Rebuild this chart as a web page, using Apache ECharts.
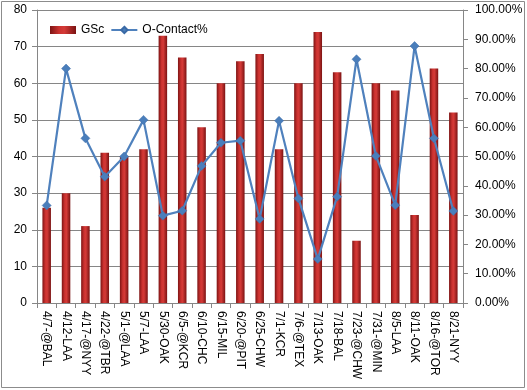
<!DOCTYPE html>
<html><head><meta charset="utf-8">
<script src="https://cdn.jsdelivr.net/npm/echarts@6/dist/echarts.min.js"></script>
<style>html,body{margin:0;padding:0;background:#fff}#c{width:527px;height:390px}</style>
</head><body><div id="c"></div>
<script>
const categories = ["4/7-@BAL","4/12-LAA","4/17-@NYY","4/22-@TBR","5/1-@LAA","5/7-LAA","5/30-OAK","6/5-@KCR","6/10-CHC","6/15-MIL","6/20-@PIT","6/25-CHW","7/1-KCR","7/6-@TEX","7/13-OAK","7/18-BAL","7/23-@CHW","7/31-@MIN","8/5-LAA","8/11-OAK","8/16-@TOR","8/21-NYY"];
const gsc = [26,30,21,41,40,42,73,67,48,60,66,68,42,60,74,63,17,60,58,24,64,52];
const oContact = [0.333,0.80,0.562,0.431,0.50,0.625,0.298,0.315,0.468,0.547,0.554,0.287,0.622,0.357,0.150,0.363,0.832,0.502,0.334,0.877,0.562,0.314];
const font = "Liberation Sans";
const chart = echarts.init(document.getElementById('c'));
chart.setOption({
  animation:false,
  textStyle:{fontFamily:font},
  graphic:[{type:'rect',shape:{x:1.5,y:1.5,width:523,height:386},style:{fill:'none',stroke:'#8c8c8c',lineWidth:1}}],
  grid:{left:37,right:64,top:10,bottom:87},
  legend:{left:45,top:19,itemGap:6,itemWidth:26,itemHeight:8,
    textStyle:{fontFamily:font,fontSize:12,color:'#000'},
    data:[{name:'GSc',icon:'rect'},{name:'O-Contact%'}]},
  xAxis:{type:'category',data:categories,
    axisLine:{lineStyle:{color:'#868686'}},
    axisTick:{show:true,length:5,lineStyle:{color:'#868686'}},
    axisLabel:{rotate:-90,margin:8,fontSize:12,color:'#000',fontFamily:font,interval:0}},
  yAxis:[{type:'value',min:0,max:80,interval:10,
    axisLine:{show:true,lineStyle:{color:'#868686'}},
    axisTick:{show:true,length:5,lineStyle:{color:'#868686'}},
    splitLine:{lineStyle:{color:'#868686'}},
    axisLabel:{fontSize:12,color:'#000',fontFamily:font,margin:10}},
   {type:'value',min:0,max:1,interval:0.1,position:'right',
    axisLine:{show:true,lineStyle:{color:'#868686'}},
    axisTick:{show:true,length:5,lineStyle:{color:'#868686'}},
    splitLine:{show:false},
    axisLabel:{fontSize:12,color:'#000',fontFamily:font,margin:12,formatter:v=>(v*100).toFixed(2)+'%'}}],
  series:[
   {name:'GSc',type:'bar',data:gsc,barWidth:'44%',
    itemStyle:{color:new echarts.graphic.LinearGradient(0,0,1,0,[
      {offset:0,color:'#7d1414'},{offset:0.35,color:'#cc3230'},{offset:0.55,color:'#d43a37'},{offset:1,color:'#7a1212'}])}},
   {name:'O-Contact%',type:'line',yAxisIndex:1,data:oContact,
    symbol:'diamond',symbolSize:9,
    lineStyle:{color:'#4f81bd',width:2.2},
    itemStyle:{color:'#4a7ebb',borderColor:'#3a6aa6',borderWidth:0.5}}
  ]
});
</script></body></html>
